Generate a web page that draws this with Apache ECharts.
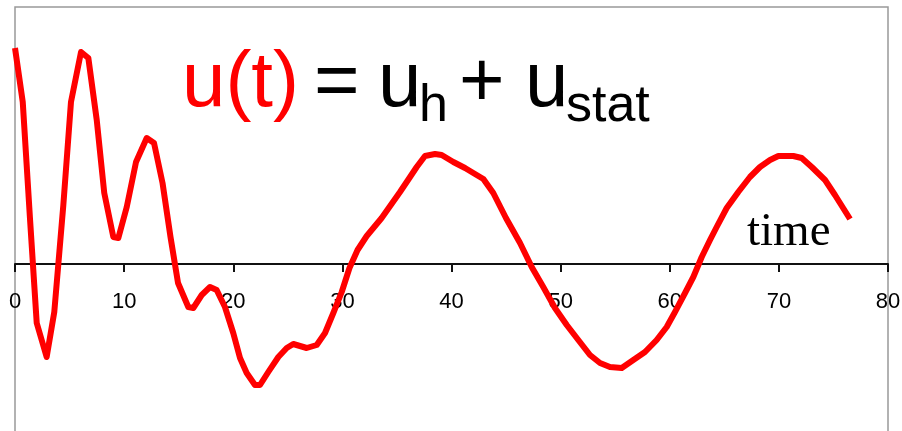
<!DOCTYPE html>
<html>
<head>
<meta charset="utf-8">
<script src="https://cdn.jsdelivr.net/npm/echarts@6/dist/echarts.min.js"></script>
<style>
  html, body { margin: 0; padding: 0; background: #fff; }
  #chart { width: 902px; height: 431px; }
</style>
</head>
<body>
<div id="chart"></div>
<script>
// Sample times of the response u(t)
const times = [
  0.00, 0.71, 1.37, 1.99, 2.90, 3.60, 4.43, 5.13, 6.05, 6.72,
  7.49, 8.18, 9.01, 9.47, 10.24, 11.09, 12.07, 12.74, 13.52, 14.25,
  14.94, 15.88, 16.34, 17.11, 17.87, 18.48, 19.24, 20.00, 20.62, 21.23,
  21.99, 22.45, 23.21, 24.13, 24.90, 25.50, 26.73, 27.65, 28.41, 29.17,
  29.94, 30.65, 31.39, 32.23, 33.60, 35.28, 36.20, 36.81, 37.57, 38.49,
  39.10, 40.17, 41.24, 42.00, 42.92, 43.83, 44.99, 46.28, 47.35, 48.41,
  49.48, 50.56, 51.62, 52.69, 53.61, 54.52, 55.60, 56.66, 57.73, 58.80,
  59.72, 60.48, 61.40, 62.16, 62.93, 63.69, 64.30, 65.22, 66.28, 67.35,
  68.27, 69.19, 69.95, 71.32, 72.09, 73.01, 74.23, 75.14, 76.52
];

// Displacement u(t) = u_h + u_stat at each sample time
const displacement = [
  2.16, 1.62, 0.46, -0.59, -0.93, -0.48, 0.59, 1.62, 2.12, 2.06,
  1.44, 0.71, 0.27, 0.26, 0.57, 1.02, 1.26, 1.21, 0.81, 0.27,
  -0.19, -0.43, -0.44, -0.31, -0.23, -0.26, -0.43, -0.69, -0.94, -1.09,
  -1.21, -1.21, -1.08, -0.93, -0.84, -0.80, -0.84, -0.81, -0.69, -0.49,
  -0.28, -0.04, 0.14, 0.28, 0.46, 0.72, 0.87, 0.97, 1.08, 1.10,
  1.09, 1.02, 0.96, 0.91, 0.85, 0.71, 0.46, 0.21, -0.03, -0.23,
  -0.44, -0.61, -0.76, -0.91, -0.99, -1.03, -1.04, -0.96, -0.88, -0.76,
  -0.63, -0.48, -0.29, -0.13, 0.07, 0.24, 0.37, 0.56, 0.72, 0.87,
  0.97, 1.04, 1.08, 1.08, 1.06, 0.97, 0.84, 0.69, 0.45
];

// Time axis range and tick step
const timeMin = 0;
const timeMax = 80;
const timeStep = 10;

// Vertical extent of the plot
const uMin = -1.7;
const uMax = 2.57;

const points = times.map((t, i) => [t, displacement[i]]);

const sans = '"Liberation Sans", Arial, sans-serif';
const serif = '"Liberation Serif", "Times New Roman", serif';

// Plot box geometry (pixels)
const gridTop = 7;
const gridHeight = 427;
// Lift the time axis from the bottom edge of the plot up to u = 0
const zeroLift = -gridHeight * (0 - uMin) / (uMax - uMin);

const chart = echarts.init(document.getElementById('chart'), null, { renderer: 'canvas' });

chart.setOption({
  animation: false,
  backgroundColor: '#ffffff',
  grid: {
    show: true,
    left: 15,
    top: gridTop,
    right: 14,
    height: gridHeight,
    borderColor: '#999999',
    borderWidth: 1.5,
    backgroundColor: 'transparent',
    containLabel: false,
    outerBoundsMode: 'none'
  },
  xAxis: {
    type: 'value',
    position: 'bottom',
    offset: zeroLift,
    min: timeMin,
    max: timeMax,
    interval: timeStep,
    axisLine: { show: true, onZero: false, lineStyle: { color: '#111', width: 2 } },
    axisTick: { show: true, inside: false, length: 8, lineStyle: { color: '#111', width: 2 } },
    axisLabel: { show: true, margin: 27, fontSize: 22, color: '#000', fontFamily: sans },
    splitLine: { show: false },
    z: 0
  },
  yAxis: {
    type: 'value',
    min: uMin,
    max: uMax,
    show: false,
    splitLine: { show: false }
  },
  series: [{
    type: 'line',
    data: points,
    showSymbol: false,
    symbol: 'none',
    lineStyle: { color: '#ff0000', width: 6, cap: 'butt', join: 'round' },
    z: 3
  }],
  graphic: [
    { type: 'text', x: 182, y: 84, z: 10,
      style: { text: 'u(t)', fill: '#ff0000', font: '78px ' + sans, verticalAlign: 'middle' } },
    { type: 'text', x: 314, y: 84, z: 10,
      style: { text: '=', fill: '#000', font: '78px ' + sans, verticalAlign: 'middle' } },
    { type: 'text', x: 378, y: 84, z: 10,
      style: { text: 'u', fill: '#000', font: '78px ' + sans, verticalAlign: 'middle' } },
    { type: 'text', x: 419, y: 107, z: 10,
      style: { text: 'h', fill: '#000', font: '52px ' + sans, verticalAlign: 'middle' } },
    { type: 'text', x: 459, y: 84, z: 10,
      style: { text: '+', fill: '#000', font: '78px ' + sans, verticalAlign: 'middle' } },
    { type: 'text', x: 525, y: 84, z: 10,
      style: { text: 'u', fill: '#000', font: '78px ' + sans, verticalAlign: 'middle' } },
    { type: 'text', x: 566, y: 107, z: 10,
      style: { text: 'stat', fill: '#000', font: '52px ' + sans, verticalAlign: 'middle' } },
    { type: 'text', x: 747, y: 233, z: 10,
      style: { text: 'time', fill: '#000', font: '47px ' + serif, verticalAlign: 'middle' } }
  ]
});
</script>
</body>
</html>
